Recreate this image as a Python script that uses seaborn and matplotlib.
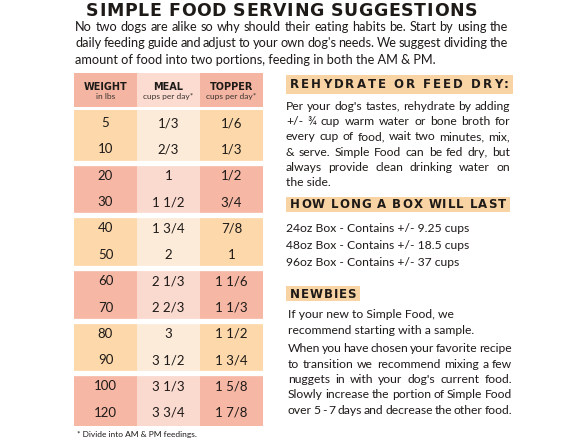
import numpy as np
import matplotlib
matplotlib.use("Agg")
import matplotlib.pyplot as plt
from matplotlib.colors import ListedColormap
from matplotlib.patches import Rectangle
import seaborn as sns

# table data
weights = ["5", "10", "20", "30", "40", "50", "60", "70", "80", "90", "100", "120"]
meal = ["1/3", "2/3", "1", "1 1/2", "1 3/4", "2", "2 1/3", "2 2/3", "3", "3 1/2", "3 1/3", "3 3/4"]
topper = ["1/6", "1/3", "1/2", "3/4", "7/8", "1", "1 1/6", "1 1/3", "1 1/2", "1 3/4", "1 5/8", "1 7/8"]
col_titles = ["WEIGHT", "MEAL", "TOPPER"]
col_units = ["in lbs", "cups per day*", "cups per day*"]

# text blocks
title = "SIMPLE FOOD SERVING SUGGESTIONS"
intro = ["No two dogs are alike so why should their eating habits be. Start by using the",
         "daily feeding guide and adjust to your own dog's needs. We suggest dividing the",
         "amount of food into two portions, feeding in both the AM & PM."]
rehydrate = ["Per your dog's tastes, rehydrate by adding",
             "+/- \u00be cup warm water or bone broth for",
             "every cup of food, wait two minutes, mix,",
             "& serve. Simple Food can be fed dry, but",
             "always provide clean drinking water on",
             "the side."]
boxes = ["24oz Box - Contains +/- 9.25 cups",
         "48oz Box - Contains +/- 18.5 cups",
         "96oz Box - Contains +/- 37 cups"]
newbies_a = ["If your new to Simple Food, we", "recommend starting with a sample."]
newbies_b = ["When you have chosen your favorite recipe",
             "to transition we recommend mixing a few",
             "nuggets in with your dog's current food.",
             "Slowly increase the portion of Simple Food",
             "over 5 - 7 days and decrease the other food."]

W, H = 588, 441
plt.rcParams["font.family"] = ["Lato", "DejaVu Sans"]
fig = plt.figure(figsize=(W / 100, H / 100), dpi=100)
fig.patch.set_facecolor("white")
rend = fig.canvas.get_renderer()

INK = "#1e1a18"
PEACH = "#f8d3a4"
BODY = 8.7
colors = ["#fcd8ab", "#fdebd9", "#f6b8a5", "#fad9cf", "#f4b6a2", "#fcdcd0"]
cmap = ListedColormap(colors)


def fx(x):
    return x / W


def fy(y):
    return 1 - y / H


def spread(units, x0, x1, y, size, **kw):
    # place pieces so they fill x0..x1 with equal gaps
    texts = [fig.text(0, fy(y), u, fontsize=size, va="center", color=INK, **kw) for u in units]
    widths = [t.get_window_extent(rend).width if u.strip() else size * 0.45 for t, u in zip(texts, units)]
    gap = (x1 - x0 - sum(widths)) / max(len(units) - 1, 1)
    x = x0
    for t, w in zip(texts, widths):
        t.set_x(fx(x))
        x += w + gap


def para(lines, x0, x1, y0, step, size, justify_last=False):
    for i, line in enumerate(lines):
        y = y0 + i * step
        if i < len(lines) - 1 or justify_last:
            spread(line.split(), x0, x1, y, size)
        else:
            fig.text(fx(x0), fy(y), line, fontsize=size, va="center", color=INK)


def heading(text, x0, x1, y0, y1, pad=4):
    fig.add_artist(Rectangle((fx(x0), fy(y1)), fx(x1 - x0), (y1 - y0) / H,
                             transform=fig.transFigure, color=PEACH, lw=0))
    spread(list(text), x0 + pad, x1 - pad, (y0 + y1) / 2 + 0.5, 8.5,
           family="DejaVu Sans", fontweight="bold")


# title and intro
spread(list(title), 86, 477, 11, 12.5, family="DejaVu Sans", fontweight="bold")
para(intro, 75, 508, 27, 16.3, 9.2)

# table header
ax_h = fig.add_axes([fx(74), fy(107), fx(263 - 74), 34 / H])
sns.heatmap(np.array([[4, 5, 4]]), cmap=cmap, vmin=-0.5, vmax=5.5, cbar=False,
            xticklabels=False, yticklabels=False, ax=ax_h)
for i, (t, u) in enumerate(zip(col_titles, col_units)):
    ax_h.text(i + 0.5, 0.4, t, ha="center", va="center", fontsize=7,
              fontweight="bold", family="DejaVu Sans", color=INK)
    ax_h.text(i + 0.5, 0.68, u, ha="center", va="center", fontsize=6, color="#3a3330")

# table body
n = len(weights)
codes = np.array([[2 * ((r // 2) % 2) + (c == 1) for c in range(3)] for r in range(n)])
labels = np.array([weights, meal, topper]).T
ax_t = fig.add_axes([fx(74), fy(426), fx(263 - 74), 316 / H])
sns.heatmap(codes, cmap=cmap, vmin=-0.5, vmax=5.5, cbar=False, annot=labels, fmt="",
            annot_kws={"fontsize": 9.5, "color": INK}, xticklabels=False, yticklabels=False,
            ax=ax_t)
for y in range(2, n, 2):
    ax_t.axhline(y, color="white", lw=3.8)
fig.text(fx(77), fy(435), "* Divide into AM & PM feedings.", fontsize=6, va="center", color=INK)

# right column
heading("REHYDRATE OR FEED DRY:", 286, 513, 75, 94)
para(rehydrate, 286, 510, 106, 15.4, BODY)
heading("HOW LONG A BOX WILL LAST", 286, 510, 197, 212)
for i, line in enumerate(boxes):
    fig.text(fx(286), fy(228 + i * 17.5), line, fontsize=BODY, va="center", color=INK)
heading("NEWBIES", 286, 360, 286, 301)
for i, line in enumerate(newbies_a):
    fig.text(fx(288), fy(314 + i * 16), line, fontsize=BODY, va="center", color=INK)
para(newbies_b, 288, 512, 349, 15.3, BODY, justify_last=True)

fig.savefig("out.png", dpi=100, facecolor="white")
